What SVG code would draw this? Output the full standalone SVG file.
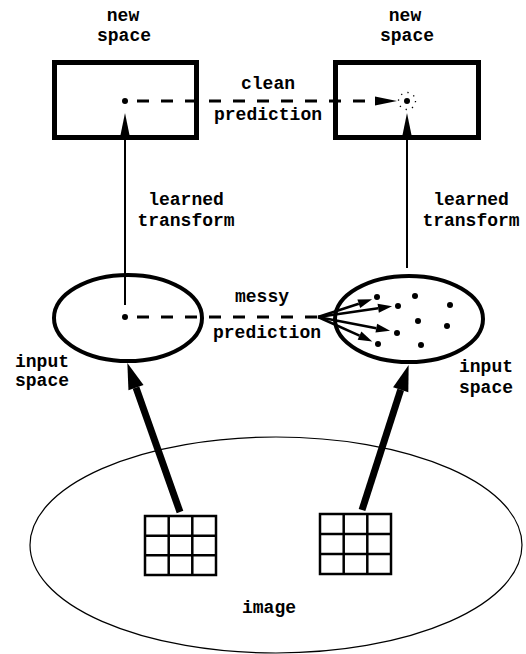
<svg xmlns="http://www.w3.org/2000/svg" width="526" height="654" viewBox="0 0 526 654">
<style>
text{font-family:"Liberation Mono","Courier New",monospace;font-size:18px;font-weight:bold;fill:#000;text-anchor:middle}
.box{fill:none;stroke:#000;stroke-width:5}
.ell{fill:none;stroke:#000;stroke-width:4}
.thin{stroke:#000;stroke-width:2;fill:none}
.dash{stroke:#000;stroke-width:3;stroke-dasharray:12 12;fill:none}
.thick{stroke:#000;stroke-width:7;fill:none}
.grid{fill:none;stroke:#000;stroke-width:2.5}
.dot{fill:#000}
</style>
<defs>
<marker id="ah" markerUnits="userSpaceOnUse" markerWidth="30" markerHeight="20" refX="0" refY="0" viewBox="0 -10 30 20" orient="auto" overflow="visible"><path d="M0,-4.5 L22,0 L0,4.5 z" fill="#000"/></marker>
<marker id="ahBig" markerUnits="userSpaceOnUse" markerWidth="30" markerHeight="20" refX="0" refY="0" viewBox="0 -10 30 20" orient="auto" overflow="visible"><path d="M0,-8 L26,0 L0,8 z" fill="#000"/></marker>
<marker id="ahFan" markerUnits="userSpaceOnUse" markerWidth="20" markerHeight="12" refX="0" refY="0" viewBox="0 -6 20 12" orient="auto" overflow="visible"><path d="M0,-4.5 L14,0 L0,4.5 z" fill="#000"/></marker>
</defs>

<g id="image">
<ellipse cx="276" cy="545" rx="246" ry="108" fill="none" stroke="#000" stroke-width="1.2"/>
<text x="269" y="613">image</text>
</g>

<g id="grid-left">
<rect class="grid" x="145" y="516" width="71" height="59"/>
<path class="grid" d="M168.7,516V575M192.3,516V575M145,535.7H216M145,555.3H216"/>
</g>
<g id="grid-right">
<rect class="grid" x="320" y="514" width="71" height="60"/>
<path class="grid" d="M343.7,514V574M367.3,514V574M320,534H391M320,554H391"/>
</g>

<g id="input-left">
<ellipse class="ell" cx="128" cy="318" rx="74" ry="43"/>
<circle class="dot" cx="125" cy="317" r="3"/>
<text x="42" y="367">input</text>
<text x="42" y="386">space</text>
</g>

<g id="input-right">
<ellipse class="ell" cx="409" cy="319" rx="74" ry="43"/>
<circle class="dot" cx="377" cy="297" r="3"/>
<circle class="dot" cx="415" cy="296" r="3"/>
<circle class="dot" cx="398" cy="306" r="3"/>
<circle class="dot" cx="450" cy="305" r="3"/>
<circle class="dot" cx="418" cy="321" r="3"/>
<circle class="dot" cx="447" cy="326" r="3"/>
<circle class="dot" cx="397" cy="333" r="3"/>
<circle class="dot" cx="378" cy="344" r="3"/>
<circle class="dot" cx="421" cy="345" r="3"/>
<text x="486" y="372">input</text>
<text x="486" y="393">space</text>
</g>

<g id="new-left">
<rect class="box" x="54.5" y="62.5" width="142" height="75"/>
<circle class="dot" cx="125" cy="101" r="3"/>
<text x="123" y="21">new</text>
<text x="124" y="41">space</text>
</g>

<g id="new-right">
<rect class="box" x="335.5" y="62.5" width="143" height="75"/>
<circle class="dot" cx="407" cy="101" r="3"/>
<circle cx="407" cy="101" r="8.5" fill="none" stroke="#000" stroke-width="1.3" stroke-dasharray="1.3 5.4"/>
<text x="405" y="21">new</text>
<text x="407" y="41">space</text>
</g>

<g id="connectors">
<line class="dash" x1="137" y1="101" x2="375" y2="101" marker-end="url(#ah)"/>
<text x="268" y="89">clean</text>
<text x="268" y="120">prediction</text>

<line class="thin" x1="125" y1="305" x2="125" y2="135" marker-end="url(#ah)"/>
<line class="thin" x1="407" y1="268" x2="407" y2="135" marker-end="url(#ah)"/>
<text x="186" y="205">learned</text>
<text x="186" y="226">transform</text>
<text x="471" y="205">learned</text>
<text x="471" y="226">transform</text>

<line class="dash" x1="137" y1="317" x2="322" y2="317"/>
<text x="262" y="302">messy</text>
<text x="267" y="338">prediction</text>
<g stroke="#000" stroke-width="2.5" fill="none">
<line x1="318" y1="317" x2="358.8" y2="303.7" marker-end="url(#ahFan)"/>
<line x1="318" y1="317" x2="378.2" y2="308.2" marker-end="url(#ahFan)"/>
<line x1="318" y1="317" x2="376.3" y2="328.2" marker-end="url(#ahFan)"/>
<line x1="318" y1="317" x2="359.5" y2="335.7" marker-end="url(#ahFan)"/>
</g>

<line class="thick" x1="180" y1="512" x2="136" y2="387.6" marker-end="url(#ahBig)"/>
<line class="thick" x1="362" y1="510" x2="400.7" y2="389.8" marker-end="url(#ahBig)"/>
</g>
</svg>
